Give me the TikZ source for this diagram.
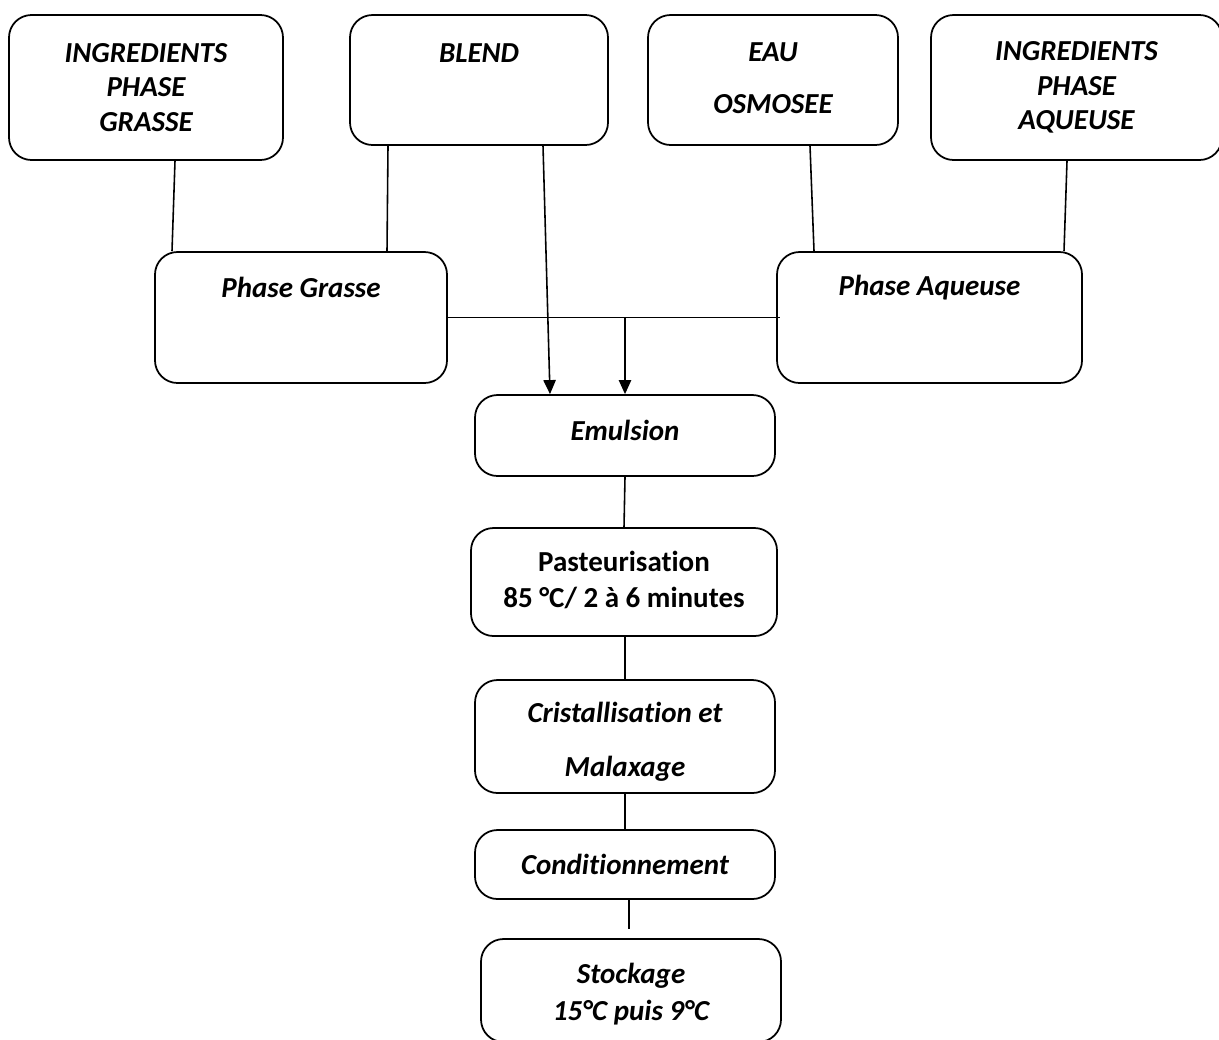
\documentclass[tikz,border=0pt]{standalone}
\usepackage{fontspec}
\setmainfont{Carlito}[Ligatures={NoCommon}]
\usetikzlibrary{arrows.meta, calc}

\begin{document}
\begin{tikzpicture}[
		x=0.02cm, y=-0.02cm,
		>={Triangle[length=8pt, width=7pt]},
		box/.style 2 args={rectangle, draw, line width=1pt, rounded corners=0.45cm, minimum width=#1*0.02cm, minimum height=#2*0.02cm, inner sep=0pt},
		txt/.style={font=\fontsize{16.5}{19.6}\selectfont\bfseries\itshape, align=center, inner sep=0pt},
		link/.style={line width=0.9pt}
		]
		\useasboundingbox (0,0) rectangle (1219,1039);
		
		% Raw materials (top row)
		\node[box={274}{145}] (ipg) at (146, 87.5) {};
		\node[box={258}{130}] (blend) at (479, 80) {};
		\node[box={250}{130}] (eau) at (773, 80) {};
		\node[box={291}{145}] (ipa) at (1076.5, 87.5) {};
		\node[txt] (ipgtxt) at (146, 87.5) {INGREDIENTS\\PHASE\\GRASSE};
		\node[txt] (blendtxt) at (479, 53) {BLEND};
		\node[txt] (eautxt) at (773, 78) {EAU\\[10pt]OSMOSEE};
		\node[txt] (ipatxt) at (1076.5, 87.5) {INGREDIENTS\\PHASE\\AQUEUSE};
		
		% Phases
		\node[box={292}{131}] (pg) at (301, 317.5) {};
		\node[box={305}{131}] (pa) at (929.5, 317.5) {};
		\node[txt] (pgtxt) at (301, 287) {Phase Grasse};
		\node[txt] (patxt) at (929.5, 288) {Phase Aqueuse};
		
		% Process steps
		\node[box={300}{81}] (emul) at (625, 435.5) {};
		\node[txt] (emultxt) at (625, 430) {Emulsion};
		\node[box={306}{108}] (past) at (624, 582) {};
		\node[txt, font=\fontsize{16.5}{21}\selectfont\bfseries] (pasttxt) at (624, 580) {Pasteurisation\\85 °C/ 2 à 6 minutes};
		\node[box={300}{113}] (crist) at (625, 736.5) {};
		\node[txt] (cristtxt) at (625, 742) {Cristallisation et\\[11pt]Malaxage};
		\node[box={300}{69}] (cond) at (625, 864.5) {};
		\node[txt] (condtxt) at (625, 864) {Conditionnement};
		\node[box={300}{103}] (stock) at (631, 990.5) {};
		\node[txt, font=\fontsize{16.5}{21}\selectfont\bfseries\itshape] (stocktxt) at (631, 994) {Stockage\\15°C puis 9°C};
		
		% Feeds into the phases
		\draw[link] ($(ipg.south)+(29,0)$) -- ($(pg.north)+(-129,0)$);
		\draw[link] ($(blend.south)+(-91,0)$) -- ($(pg.north)+(86,0)$);
		\draw[link] ($(eau.south)+(37,0)$) -- ($(pa.north)+(-115.5,0)$);
		\draw[link] ($(ipa.south)+(-9.5,0)$) -- ($(pa.north)+(134.5,0)$);
		
		% Phases and blend to emulsion
		\draw[link] (pg.east) -- ($(pa.west)+(4,0)$);
		\coordinate (join) at (pg.east -| emul.north);
		\draw[link, ->] (join) -- (emul.north);
		\draw[link, ->] ($(blend.south)+(64,0)$) -- ($(emul.north)+(-75,0)$);
		
		% Process line
		\draw[link] (emul.south) -- (past.north);
		\draw[link] ($(past.south)+(1,0)$) -- (crist.north);
		\draw[link] (crist.south) -- (cond.north);
		\coordinate (stub) at ($(cond.south)+(4,29)$);
		\draw[link] ($(cond.south)+(4,0)$) -- (stub);
		
	\end{tikzpicture}
\end{document}
